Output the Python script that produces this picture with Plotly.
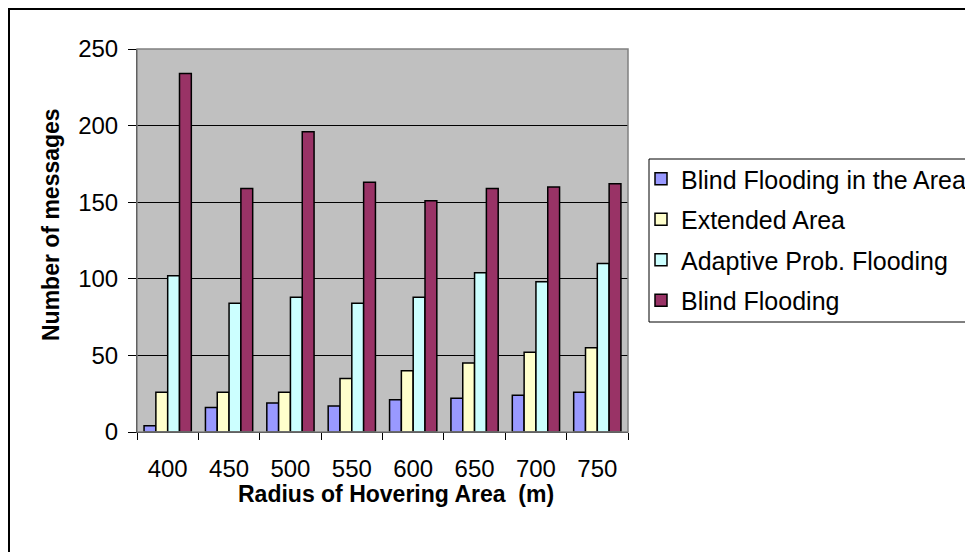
import plotly.graph_objects as go

radius = ["400", "450", "500", "550", "600", "650", "700", "750"]
blind_area = [4, 16, 19, 17, 21, 22, 24, 26]
extended_area = [26, 26, 26, 35, 40, 45, 52, 55]
adaptive_prob = [102, 84, 88, 84, 88, 104, 98, 110]
blind_flooding = [234, 159, 196, 163, 151, 159, 160, 162]

series = [
    ("Blind Flooding in the Area", blind_area, "#9999FF"),
    ("Extended Area", extended_area, "#FFFFCC"),
    ("Adaptive Prob. Flooding", adaptive_prob, "#CCFFFF"),
    ("Blind Flooding", blind_flooding, "#993366"),
]

FONT = "Liberation Sans, Arial, sans-serif"
OFF = 8  # page body margin
W, H = 973 - OFF, 552 - OFF
# plot area in window pixels: x 137..628, y 49..432
L = 137 - OFF
T = 49 - OFF
R = W - (628 - OFF)
B = H - (432 - OFF)
PW = W - L - R
PH = H - T - B


def px_x(x):  # window px -> paper
    return (x - OFF - L) / PW


def px_y(y):
    return (H - B - (y - OFF)) / PH


fig = go.Figure()
for i, (name, vals, col) in enumerate(series):
    fig.add_trace(go.Bar(
        x=radius, y=vals, name=name, legendgroup=f"g{i}",
        marker=dict(color=col, line=dict(color="#000000", width=1.5)),
    ))

fig.update_layout(
    width=W, height=H,
    margin=dict(l=L, r=R, t=T, b=B, autoexpand=False),
    paper_bgcolor="white",
    plot_bgcolor="#C0C0C0",
    barmode="group",
    bargap=0.23,
    bargroupgap=0,
    font=dict(family=FONT, size=24, color="#000000"),
    showlegend=True,
    legend=dict(
        x=px_x(641), y=px_y(156), xanchor="left", yanchor="top",
        bgcolor="rgba(0,0,0,0)", borderwidth=0,
        font=dict(family=FONT, size=25, color="#000000"),
        traceorder="grouped", tracegroupgap=5,
        itemwidth=30,
    ),
    xaxis=dict(
        type="category",
        showline=True, linecolor="#000000", linewidth=1,
        ticks="outside", ticklen=7, tickcolor="#000000", tickwidth=1,
        tickson="boundaries",
        ticklabelstandoff=15,
        showgrid=False, zeroline=False,
        tickfont=dict(family=FONT, size=24),
    ),
    yaxis=dict(
        range=[0, 250], tickvals=[0, 50, 100, 150, 200, 250],
        showline=True, linecolor="#000000", linewidth=1,
        ticks="outside", ticklen=8, tickcolor="#000000", tickwidth=1,
        ticklabelstandoff=5,
        showgrid=True, gridcolor="#000000", gridwidth=1,
        zeroline=False,
        tickfont=dict(family=FONT, size=24),
    ),
    shapes=[
        # legend box
        dict(type="rect", xref="paper", yref="paper",
             x0=px_x(649), y0=px_y(322), x1=px_x(990), y1=px_y(159),
             fillcolor="white", line=dict(color="#000000", width=1), layer="above"),
        # plot area border (gray top/right)
        dict(type="rect", xref="paper", yref="paper", x0=0, y0=0, x1=1, y1=1,
             line=dict(color="#808080", width=1.5), layer="above"),
        # outer chart border
        dict(type="rect", xref="paper", yref="paper",
             x0=px_x(9), y0=px_y(1000), x1=px_x(1000), y1=px_y(9),
             line=dict(color="#000000", width=2), layer="above"),
    ],
    annotations=[
        dict(text="<b>Radius of Hovering Area  (m)</b>", xref="paper", yref="paper",
             x=px_x(396), y=px_y(494), xanchor="center", yanchor="middle",
             showarrow=False, font=dict(family=FONT, size=23)),
        dict(text="<b>Number of messages</b>", xref="paper", yref="paper",
             x=px_x(51), y=px_y(225), xanchor="center", yanchor="middle",
             textangle=-90, showarrow=False, font=dict(family=FONT, size=23)),
    ],
)

fig.write_html("out.html")
